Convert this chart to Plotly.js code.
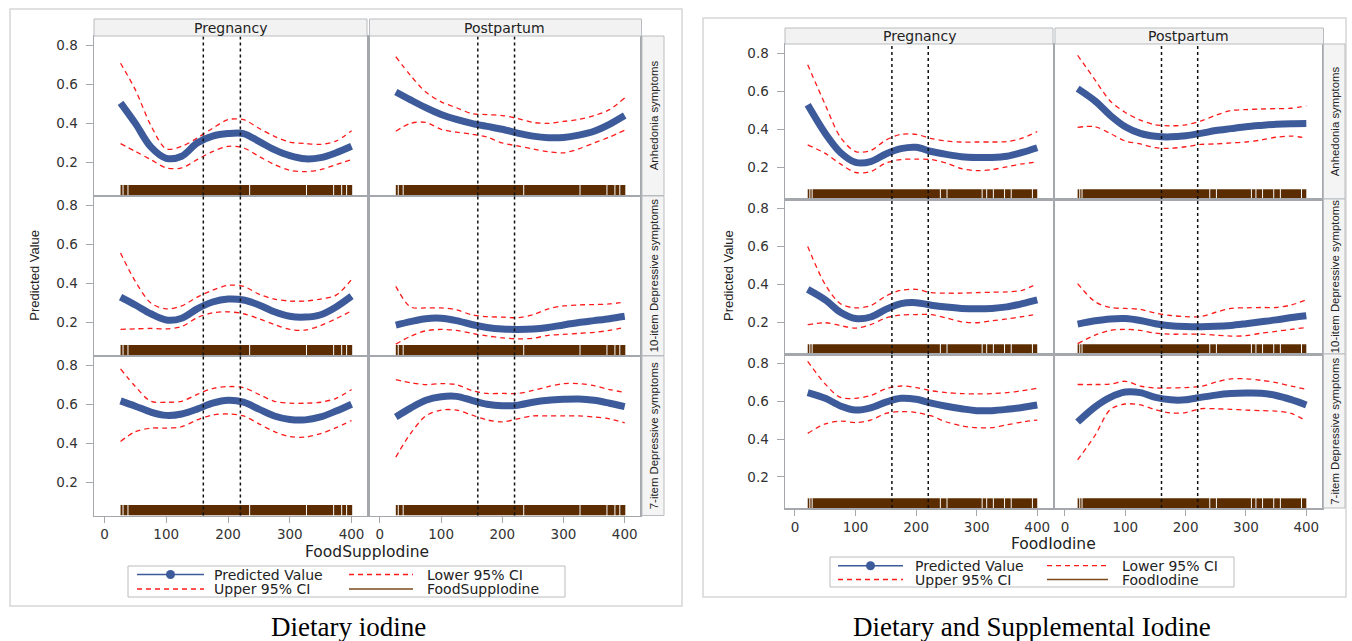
<!DOCTYPE html>
<html><head><meta charset="utf-8">
<script src="https://cdn.plot.ly/plotly-3.0.1.min.js"></script>
<style>html,body{margin:0;padding:0;background:#fff;}#chart{width:1352px;height:641px;}</style>
</head><body><div id="chart"></div>
<script>
const W = 1352, H = 641;

// ---------- categories / labels ----------
const colLabels = ['Pregnancy', 'Postpartum'];
const rowLabels = ['Anhedonia symptoms', '10-item Depressive symptoms', '7-item Depressive symptoms'];
const panelVars = ['FoodSuppIodine', 'FoodIodine'];
const panelCaptions = ['Dietary iodine', 'Dietary and Supplemental Iodine'];
const seriesNames = ['Predicted Value', 'Lower 95% CI', 'Upper 95% CI'];
const xTicks = [0, 100, 200, 300, 400];
const yTicks = [0.2, 0.4, 0.6, 0.8];
const refLines = [160, 220];

// ---------- x grids ----------
const suppX = [26, 50, 75, 100, 125, 150, 175, 200, 225, 250, 275, 300, 325, 350, 375, 400];
const foodX = [21, 50, 75, 100, 125, 150, 175, 200, 225, 250, 275, 300, 325, 350, 375, 400];

// ---------- rug (observed exposure values: covered range and visible gaps) ----------
const suppRugRange = [26, 401];
const suppRugGaps = [30, 38, 235, 327, 371, 384, 392];
const foodRugRange = [21, 400];
const foodRugGaps = [24.5, 28.3, 240, 251, 309, 316.5, 327.5, 346, 357, 392];

// ---------- Dietary iodine (FoodSuppIodine) ----------
const suppPregAnhPred = [0.505,0.40,0.28,0.222,0.232,0.30,0.335,0.348,0.348,0.308,0.266,0.235,0.219,0.225,0.25,0.283];
const suppPregAnhLo   = [0.297,0.257,0.215,0.173,0.173,0.215,0.256,0.283,0.275,0.232,0.19,0.161,0.154,0.164,0.19,0.215];
const suppPregAnhHi   = [0.707,0.571,0.39,0.27,0.283,0.325,0.375,0.419,0.419,0.375,0.334,0.305,0.297,0.293,0.31,0.363];

const suppPostAnhPred = [0.56,0.52,0.48,0.445,0.42,0.40,0.385,0.37,0.35,0.335,0.327,0.328,0.34,0.36,0.395,0.44];
const suppPostAnhLo   = [0.36,0.40,0.405,0.37,0.355,0.345,0.33,0.30,0.285,0.27,0.255,0.25,0.27,0.30,0.33,0.365];
const suppPostAnhHi   = [0.74,0.645,0.56,0.51,0.48,0.45,0.445,0.44,0.425,0.405,0.40,0.41,0.42,0.44,0.47,0.53];

const suppPregDep10Pred = [0.33,0.29,0.245,0.213,0.222,0.27,0.305,0.32,0.315,0.29,0.255,0.232,0.228,0.24,0.28,0.335];
const suppPregDep10Lo   = [0.165,0.168,0.17,0.168,0.18,0.225,0.25,0.255,0.245,0.22,0.19,0.165,0.162,0.185,0.22,0.26];
const suppPregDep10Hi   = [0.555,0.41,0.30,0.27,0.285,0.33,0.365,0.39,0.385,0.345,0.32,0.31,0.31,0.32,0.34,0.42];

const suppPostDep10Pred = [0.187,0.205,0.22,0.222,0.21,0.19,0.175,0.167,0.165,0.167,0.175,0.188,0.2,0.21,0.22,0.232];
const suppPostDep10Lo   = [0.09,0.13,0.158,0.165,0.16,0.145,0.132,0.122,0.117,0.12,0.135,0.14,0.145,0.15,0.16,0.175];
const suppPostDep10Hi   = [0.385,0.28,0.275,0.275,0.265,0.24,0.23,0.228,0.225,0.24,0.27,0.285,0.29,0.292,0.295,0.305];

const suppPregDep7Pred = [0.617,0.59,0.56,0.543,0.55,0.575,0.605,0.62,0.61,0.575,0.54,0.522,0.52,0.535,0.565,0.60];
const suppPregDep7Lo   = [0.41,0.46,0.478,0.478,0.485,0.52,0.545,0.55,0.54,0.50,0.46,0.435,0.432,0.45,0.48,0.517];
const suppPregDep7Hi   = [0.78,0.69,0.615,0.61,0.615,0.65,0.68,0.69,0.685,0.65,0.615,0.605,0.605,0.61,0.63,0.675];

const suppPostDep7Pred = [0.535,0.58,0.62,0.638,0.64,0.62,0.60,0.592,0.595,0.61,0.62,0.625,0.627,0.62,0.605,0.588];
const suppPostDep7Lo   = [0.33,0.45,0.54,0.57,0.57,0.545,0.52,0.51,0.525,0.54,0.54,0.54,0.54,0.535,0.525,0.505];
const suppPostDep7Hi   = [0.725,0.71,0.70,0.705,0.70,0.67,0.655,0.655,0.655,0.67,0.69,0.705,0.705,0.695,0.675,0.66];

// ---------- Dietary and Supplemental Iodine (FoodIodine) ----------
const foodPregAnhPred = [0.53,0.38,0.28,0.228,0.232,0.272,0.30,0.307,0.285,0.27,0.258,0.254,0.254,0.26,0.28,0.305];
const foodPregAnhLo   = [0.32,0.275,0.22,0.175,0.18,0.225,0.243,0.245,0.243,0.225,0.195,0.185,0.19,0.205,0.22,0.23];
const foodPregAnhHi   = [0.74,0.53,0.36,0.285,0.29,0.345,0.375,0.375,0.353,0.34,0.335,0.335,0.335,0.337,0.355,0.39];

const foodPostAnhPred = [0.615,0.55,0.475,0.415,0.38,0.365,0.362,0.368,0.38,0.395,0.405,0.415,0.422,0.428,0.431,0.432];
const foodPostAnhLo   = [0.412,0.415,0.38,0.34,0.325,0.305,0.302,0.31,0.322,0.325,0.33,0.335,0.345,0.36,0.366,0.355];
const foodPostAnhHi   = [0.79,0.66,0.55,0.49,0.45,0.425,0.42,0.425,0.445,0.475,0.5,0.505,0.508,0.51,0.512,0.525];

const foodPregDep10Pred = [0.375,0.32,0.255,0.222,0.23,0.27,0.30,0.305,0.292,0.282,0.275,0.273,0.275,0.283,0.30,0.32];
const foodPregDep10Lo   = [0.19,0.2,0.185,0.172,0.19,0.225,0.24,0.243,0.243,0.225,0.205,0.2,0.21,0.22,0.232,0.245];
const foodPregDep10Hi   = [0.6,0.4,0.3,0.278,0.29,0.34,0.37,0.375,0.358,0.355,0.355,0.358,0.36,0.362,0.37,0.405];

const foodPostDep10Pred = [0.193,0.21,0.22,0.222,0.212,0.195,0.184,0.18,0.179,0.181,0.186,0.195,0.205,0.215,0.227,0.237];
const foodPostDep10Lo   = [0.09,0.135,0.16,0.165,0.16,0.145,0.14,0.14,0.14,0.135,0.13,0.132,0.145,0.155,0.165,0.175];
const foodPostDep10Hi   = [0.405,0.31,0.28,0.275,0.27,0.25,0.238,0.232,0.232,0.255,0.275,0.278,0.28,0.28,0.293,0.32];

const foodPregDep7Pred = [0.645,0.615,0.575,0.553,0.565,0.595,0.615,0.61,0.59,0.573,0.56,0.55,0.55,0.557,0.567,0.58];
const foodPregDep7Lo   = [0.43,0.48,0.495,0.487,0.5,0.535,0.545,0.54,0.522,0.49,0.47,0.46,0.46,0.475,0.49,0.5];
const foodPregDep7Hi   = [0.81,0.69,0.62,0.615,0.63,0.665,0.68,0.672,0.655,0.645,0.64,0.638,0.64,0.645,0.655,0.668];

const foodPostDep7Pred = [0.49,0.57,0.62,0.648,0.645,0.62,0.607,0.607,0.62,0.632,0.64,0.643,0.642,0.63,0.608,0.58];
const foodPostDep7Lo   = [0.29,0.42,0.555,0.585,0.58,0.555,0.538,0.54,0.56,0.56,0.557,0.553,0.55,0.547,0.535,0.495];
const foodPostDep7Hi   = [0.688,0.688,0.69,0.705,0.68,0.67,0.67,0.672,0.678,0.7,0.718,0.718,0.71,0.698,0.68,0.662];

// ---------- assemble (row-major: row, then column) ----------
const panels = [
  { x: suppX, rugRange: suppRugRange, rugGaps: suppRugGaps, cells: [
    [suppPregAnhPred, suppPregAnhLo, suppPregAnhHi], [suppPostAnhPred, suppPostAnhLo, suppPostAnhHi],
    [suppPregDep10Pred, suppPregDep10Lo, suppPregDep10Hi], [suppPostDep10Pred, suppPostDep10Lo, suppPostDep10Hi],
    [suppPregDep7Pred, suppPregDep7Lo, suppPregDep7Hi], [suppPostDep7Pred, suppPostDep7Lo, suppPostDep7Hi]] },
  { x: foodX, rugRange: foodRugRange, rugGaps: foodRugGaps, cells: [
    [foodPregAnhPred, foodPregAnhLo, foodPregAnhHi], [foodPostAnhPred, foodPostAnhLo, foodPostAnhHi],
    [foodPregDep10Pred, foodPregDep10Lo, foodPregDep10Hi], [foodPostDep10Pred, foodPostDep10Lo, foodPostDep10Hi],
    [foodPregDep7Pred, foodPregDep7Lo, foodPregDep7Hi], [foodPostDep7Pred, foodPostDep7Lo, foodPostDep7Hi]] }
];

// ---------- geometry (pixels) ----------
const geo = [
  { cols: [[94, 367], [369.5, 640]], rows: [[36, 195.5], [196, 355.5], [356, 515.5]],
    yr: [0.032, 0.846], xr: [-17, 425], rugTop: 0.085, header: [19, 36], strip: [642, 664],
    frame: [10, 9, 682, 606], ytitleX: 35, xtitleY: 552,
    leg: { box: [128, 566, 565, 597], r1: 574.5, r2: 589, c1: [137, 204], t1: 212, c2: [349, 413], t2: 425 },
    caption: [348, 627] },
  { cols: [[785, 1053], [1055, 1322]], rows: [[44, 199], [199, 354], [354, 508]],
    yr: [0.036, 0.849], xr: [-16.5, 426], rugTop: 0.087, header: [28, 44], strip: [1323.5, 1345],
    frame: [703, 18, 1346, 597], ytitleX: 728, xtitleY: 544,
    leg: { box: [830, 557, 1234, 587], r1: 565.7, r2: 579.5, c1: [838, 903], t1: 913, c2: [1047, 1108], t2: 1120 },
    caption: [1032, 627] }
];

const PX = v => v / W, PY = v => 1 - v / H;
const BLUE = '#3d5b9b', RED = '#ff1a1a', BROWN = '#5a2c00', AXIS = '#a4a8ad';
const SANS = 'DejaVu Sans, Liberation Sans, sans-serif';
const NARROW = 'Liberation Sans, Arial, sans-serif';

function rugSegments(range, gaps) {
  const b = [range[0], ...gaps, range[1]], mids = [], widths = [];
  for (let i = 0; i < b.length - 1; i++) {
    const s = b[i] + (i > 0 ? 0.8 : 0), e = b[i + 1] - (i < b.length - 2 ? 0.8 : 0);
    mids.push((s + e) / 2); widths.push(e - s);
  }
  return { mids, widths };
}

const traces = [];
const layout = {
  width: W, height: H, margin: { l: 0, r: 0, t: 0, b: 0 },
  paper_bgcolor: '#fff', plot_bgcolor: '#fff', showlegend: false,
  font: { family: SANS, size: 13, color: '#333' },
  shapes: [], annotations: []
};
const ann = (o) => layout.annotations.push(Object.assign({ xref: 'paper', yref: 'paper', showarrow: false, xanchor: 'center', yanchor: 'middle' }, o));
const shp = (o) => layout.shapes.push(o);

panels.forEach((P, p) => {
  const G = geo[p];
  const rug = rugSegments(P.rugRange, P.rugGaps);
  // outer frame
  shp({ type: 'rect', xref: 'paper', yref: 'paper', x0: PX(G.frame[0]), x1: PX(G.frame[2]), y0: PY(G.frame[1]), y1: PY(G.frame[3]), line: { color: '#d6d6d6', width: 1.5 } });
  P.cells.forEach((cell, idx) => {
    const r = Math.floor(idx / 2), c = idx % 2, k = p * 6 + idx + 1;
    const sfx = k === 1 ? '' : String(k);
    const xa = 'x' + sfx, ya = 'y' + sfx;
    layout['xaxis' + sfx] = {
      domain: [PX(G.cols[c][0]), PX(G.cols[c][1])], range: G.xr, anchor: ya,
      tickvals: xTicks, showticklabels: r === 2, ticks: r === 2 ? 'outside' : '', ticklen: 6, tickcolor: AXIS,
      tickfont: { family: SANS, size: 13.5, color: '#333' },
      showline: true, mirror: true, linecolor: AXIS, linewidth: 1.5, showgrid: false, zeroline: false, fixedrange: true
    };
    layout['yaxis' + sfx] = {
      domain: [PY(G.rows[r][1]), PY(G.rows[r][0])], range: G.yr, anchor: xa,
      tickvals: yTicks, ticktext: yTicks.map(v => v.toFixed(1)), showticklabels: c === 0,
      ticks: c === 0 ? 'outside' : '', ticklen: 7, tickcolor: AXIS, ticklabelstandoff: 5,
      tickfont: { family: SANS, size: 13.5, color: '#333' },
      showline: true, mirror: true, linecolor: AXIS, linewidth: 1.5, showgrid: false, zeroline: false, fixedrange: true
    };
    // rug
    traces.push({ type: 'bar', xaxis: xa, yaxis: ya, x: rug.mids, width: rug.widths,
      base: rug.mids.map(() => G.yr[0]), y: rug.mids.map(() => G.rugTop - G.yr[0]),
      marker: { color: BROWN, line: { width: 0 } }, hoverinfo: 'skip', name: panelVars[p] });
    // CIs
    [1, 2].forEach(j => traces.push({ type: 'scatter', mode: 'lines', xaxis: xa, yaxis: ya, x: P.x, y: cell[j], name: seriesNames[j],
      line: { color: RED, width: 1.3, dash: '5px,4px', shape: 'spline', smoothing: 0.9 }, hoverinfo: 'skip' }));
    // predicted
    traces.push({ type: 'scatter', mode: 'lines', xaxis: xa, yaxis: ya, x: P.x, y: cell[0], name: seriesNames[0],
      line: { color: BLUE, width: 7, shape: 'spline', smoothing: 0.9 }, hoverinfo: 'skip' });
    // reference lines
    refLines.forEach(v => shp({ type: 'line', xref: xa, yref: ya + ' domain', x0: v, x1: v, y0: 0, y1: 1,
      line: { color: '#111', width: 1.5, dash: '3px,3px' } }));
  });
  // column headers
  colLabels.forEach((t, c) => {
    shp({ type: 'rect', xref: 'paper', yref: 'paper', x0: PX(G.cols[c][0]), x1: PX(G.cols[c][1] + (c === 1 ? 1.5 : 0)), y0: PY(G.header[1]), y1: PY(G.header[0]),
      fillcolor: '#f2f2f2', line: { color: '#b8bcc0', width: 1 } });
    ann({ x: PX((G.cols[c][0] + G.cols[c][1]) / 2), y: PY((G.header[0] + G.header[1]) / 2 + 0.5), text: t, font: { family: SANS, size: 14, color: '#222' } });
  });
  // row strips
  rowLabels.forEach((t, r) => {
    shp({ type: 'rect', xref: 'paper', yref: 'paper', x0: PX(G.strip[0]), x1: PX(G.strip[1]), y0: PY(G.rows[r][1]), y1: PY(G.rows[r][0]),
      fillcolor: '#f4f4f4', line: { color: '#b8bcc0', width: 1 } });
    ann({ x: PX((G.strip[0] + G.strip[1]) / 2 + 0.5), y: PY((G.rows[r][0] + G.rows[r][1]) / 2), text: t, textangle: -90, font: { family: NARROW, size: 11.4, color: '#222' } });
  });
  // axis titles
  ann({ x: PX(G.ytitleX), y: PY((G.rows[0][0] + G.rows[2][1]) / 2), text: 'Predicted Value', textangle: -90, font: { family: NARROW, size: 13, color: '#222' } });
  ann({ x: PX((G.cols[0][0] + G.cols[1][1]) / 2), y: PY(G.xtitleY), text: panelVars[p], font: { family: SANS, size: 15.5, color: '#222' } });
  // legend
  const L = G.leg;
  shp({ type: 'rect', xref: 'paper', yref: 'paper', x0: PX(L.box[0]), x1: PX(L.box[2]), y0: PY(L.box[3]), y1: PY(L.box[1]), line: { color: '#b8bcc0', width: 1 } });
  const legItems = [
    { name: seriesNames[0], col: 0, row: L.r1, kind: 'pred' },
    { name: seriesNames[1], col: 1, row: L.r1, kind: 'ci' },
    { name: seriesNames[2], col: 0, row: L.r2, kind: 'ci' },
    { name: panelVars[p], col: 1, row: L.r2, kind: 'rug' }
  ];
  legItems.forEach(it => {
    const seg = it.col === 0 ? L.c1 : L.c2, tx = it.col === 0 ? L.t1 : L.t2;
    const style = it.kind === 'pred' ? { color: BLUE, width: 1.5 } : it.kind === 'ci' ? { color: RED, width: 1.3, dash: '5px,4px' } : { color: '#7a4a1e', width: 1.5 };
    shp({ type: 'line', xref: 'paper', yref: 'paper', x0: PX(seg[0]), x1: PX(seg[1]), y0: PY(it.row), y1: PY(it.row), line: style });
    if (it.kind === 'pred') {
      const m = (seg[0] + seg[1]) / 2;
      shp({ type: 'circle', xref: 'paper', yref: 'paper', x0: PX(m - 4.5), x1: PX(m + 4.5), y0: PY(it.row + 4.5), y1: PY(it.row - 4.5), fillcolor: BLUE, line: { color: BLUE, width: 0 } });
    }
    ann({ x: PX(tx), y: PY(it.row), xanchor: 'left', text: it.name, font: { family: SANS, size: 14, color: '#222' } });
  });
  // caption
  ann({ x: PX(G.caption[0]), y: PY(G.caption[1]), text: panelCaptions[p], font: { family: 'Liberation Serif, DejaVu Serif, serif', size: 27, color: '#000' } });
});

Plotly.newPlot('chart', traces, layout, { staticPlot: true, displayModeBar: false });
</script>
</body></html>
